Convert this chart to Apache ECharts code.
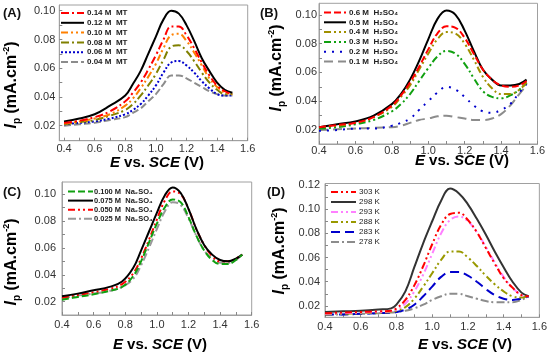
<!DOCTYPE html>
<html><head><meta charset="utf-8">
<script src="https://cdn.jsdelivr.net/npm/echarts@6/dist/echarts.min.js"></script>
<style>html,body{margin:0;padding:0;background:#fff}#c{width:550px;height:359px}</style>
</head><body><div id="c"></div>
<script>
// ---------- DATA ----------
// Panel A : MT concentration
const xA = [0.4,0.5,0.6,0.7,0.8,0.85,0.9,0.95,1.0,1.05,1.1,1.15,1.2,1.25,1.3,1.35,1.4,1.45,1.5];
const namesA = ['0.14 M  MT','0.12 M  MT','0.10 M  MT','0.08 M  MT','0.06 M  MT','0.04 M  MT'];
const a014 = [.022,.0235,.026,.030,.037,.043,.050,.059,.069,.080,.089,.089,.083,.074,.064,.055,.048,.044,.042];
const a012 = [.023,.025,.028,.034,.041,.049,.058,.070,.082,.094,.100,.098,.090,.079,.067,.058,.050,.045,.043];
const a010 = [.0215,.023,.025,.028,.034,.039,.046,.054,.063,.074,.083,.084,.079,.071,.062,.053,.047,.043,.042];
const a008 = [.021,.0225,.024,.027,.031,.035,.041,.048,.056,.066,.075,.076,.072,.065,.057,.050,.045,.042,.042];
const a006 = [.021,.022,.023,.025,.028,.031,.035,.041,.048,.057,.064,.065,.062,.057,.051,.046,.042,.041,.041];
const a004 = [.020,.021,.022,.024,.026,.029,.032,.037,.042,.049,.055,.055,.053,.050,.047,.044,.042,.041,.041];

// Panel B : H2SO4 concentration
const xB = [0.4,0.5,0.6,0.7,0.8,0.85,0.9,0.95,1.0,1.05,1.1,1.15,1.2,1.25,1.3,1.35,1.4,1.45,1.5,1.54];
const namesB = ['0.6 M  H₂SO₄','0.5 M  H₂SO₄','0.4 M  H₂SO₄','0.3 M  H₂SO₄','0.2 M  H₂SO₄','0.1 M  H₂SO₄'];
const b06 = [.022,.0235,.025,.029,.037,.044,.053,.064,.076,.087,.092,.091,.084,.073,.062,.055,.051,.050,.051,.054];
const b05 = [.022,.024,.026,.030,.038,.045,.055,.068,.083,.097,.103,.100,.089,.075,.062,.055,.051,.051,.052,.055];
const b04 = [.022,.023,.025,.029,.036,.043,.051,.062,.073,.083,.088,.087,.080,.069,.057,.049,.045,.045,.048,.053];
const b03 = [.021,.022,.024,.027,.033,.038,.045,.054,.063,.071,.075,.073,.066,.056,.047,.043,.042,.044,.048,.053];
const b02 = [.0195,.020,.021,.021,.023,.025,.028,.034,.040,.046,.050,.048,.043,.037,.033,.032,.034,.038,.046,.052];
const b01 = [.020,.0205,.021,.0215,.022,.023,.025,.027,.028,.0295,.030,.029,.028,.027,.027,.028,.031,.037,.045,.051];

// Panel C : Na2SO4 concentration
const xC = [0.4,0.5,0.6,0.7,0.78,0.85,0.9,0.95,1.0,1.05,1.1,1.15,1.2,1.25,1.3,1.35,1.4,1.45,1.5,1.54];
const namesC = ['0.100 M  Na₂SO₄','0.075 M  Na₂SO₄','0.050 M  Na₂SO₄','0.025 M  Na₂SO₄'];
const c100 = [.0215,.0235,.0255,.028,.031,.039,.050,.064,.078,.090,.096,.094,.083,.069,.058,.051,.048,.048,.051,.055];
const c075 = [.024,.026,.0285,.031,.035,.045,.058,.072,.086,.099,.105,.101,.089,.074,.062,.055,.051,.050,.052,.055];
const c050 = [.023,.025,.027,.0295,.033,.041,.052,.066,.081,.095,.102,.100,.089,.074,.062,.054,.050,.050,.052,.055];
const c025 = [.0225,.0245,.026,.028,.031,.037,.047,.060,.074,.087,.094,.092,.082,.069,.058,.052,.049,.049,.051,.055];

// Panel D : temperature
const xD = [0.4,0.5,0.6,0.7,0.77,0.8,0.85,0.9,0.95,1.0,1.05,1.1,1.15,1.2,1.25,1.3,1.35,1.4,1.45,1.5,1.54];
const namesD = ['303 K','298 K','293 K','288 K','283 K','278 K'];
const d303 = [.014,.0145,.015,.0155,.016,.018,.025,.037,.053,.071,.087,.096,.097,.091,.081,.068,.055,.043,.035,.029,.028];
const d298 = [.015,.0155,.016,.017,.018,.021,.032,.052,.072,.090,.107,.117,.113,.104,.092,.079,.065,.052,.040,.031,.028];
const d293 = [.0135,.014,.0145,.015,.0155,.017,.022,.032,.046,.063,.080,.091,.094,.090,.081,.069,.056,.044,.035,.029,.028];
const d288 = [.013,.0135,.014,.0145,.015,.016,.019,.026,.036,.047,.058,.065,.065,.060,.053,.045,.038,.032,.028,.027,.028];
const d283 = [.013,.013,.0135,.014,.0145,.015,.017,.021,.028,.036,.044,.048,.048,.045,.040,.034,.029,.026,.025,.026,.028];
const d278 = [.013,.013,.0135,.014,.0145,.015,.016,.018,.021,.025,.028,.030,.030,.028,.026,.024,.023,.023,.023,.025,.028];

const xTickLabels = [0.4,0.6,0.8,1.0,1.2,1.4,1.6];
const xTicks = [0.4,0.5,0.6,0.7,0.8,0.9,1.0,1.1,1.2,1.3,1.4,1.5,1.6];
const yTickLabelsABC = [0.02,0.04,0.06,0.08,0.10];
const yTicksABC = [0.02,0.03,0.04,0.05,0.06,0.07,0.08,0.09,0.10];
const yTickLabelsD = [0.02,0.04,0.06,0.08,0.10,0.12];
const yTicksD = [0.02,0.03,0.04,0.05,0.06,0.07,0.08,0.09,0.10,0.11,0.12];

// ---------- STYLES ----------
const FONT = 'Liberation Sans, Arial, sans-serif';
const DASH = [7,3];
const DASHDOT = [8,3,2,3];
const DASHDOTDOT = [7,3,2,3,2,3];
const DOT = [2,2];
const LONGDASH = [9,5];

const panels = [
  {grid:{left:59.3,top:5,width:188.4,height:135.7}, x:[0.369,1.6], y:[0.0096,0.104], yl:yTickLabelsABC, yt:yTicksABC, xm:3, ym:4,
   xs:xA, names:namesA, data:[a014,a012,a010,a008,a006,a004],
   colors:['#ff0000','#000000','#ff8000','#808000','#0000cc','#8c8c8c'],
   types:[DASHDOT,'solid',DASHDOTDOT,DASHDOT,DOT,DASH],
   legend:{left:60,top:8.5,itemWidth:23,itemHeight:9,itemGap:0.8,fontSize:8,fontWeight:'bold',pad:-2}},
  {grid:{left:319,top:3.3,width:218.5,height:140.7}, x:[0.4,1.6], y:[0.0103,0.108], yl:yTickLabelsABC, yt:yTicksABC, xm:1, ym:2,
   xs:xB, names:namesB, data:[b06,b05,b04,b03,b02,b01],
   colors:['#ff0000','#000000','#a09000','#10a010','#0000cc','#8c8c8c'],
   types:[DASH,'solid',DASHDOTDOT,DASHDOTDOT,[2,6],LONGDASH],
   legend:{left:323,top:8,itemWidth:22,itemHeight:9,itemGap:0.8,fontSize:8,fontWeight:'bold',pad:-2}},
  {grid:{left:62,top:182,width:189.7,height:133}, x:[0.4,1.6], y:[0.0101,0.109], yl:yTickLabelsABC, yt:yTicksABC, xm:4, ym:6,
   xs:xC, names:namesC, data:[c100,c075,c050,c025],
   colors:['#10a010','#000000','#ff0000','#999999'],
   types:[DASH,'solid',DASHDOTDOT,DASHDOT],
   legend:{left:67,top:187.5,itemWidth:25,itemHeight:8,itemGap:1.1,fontSize:7.5,fontWeight:'bold',pad:-4}},
  {grid:{left:325,top:183.5,width:214.5,height:133.8}, x:[0.4,1.6], y:[0.0106,0.1212], yl:yTickLabelsD, yt:yTicksD, xm:4, ym:5,
   xs:xD, names:namesD, data:[d303,d298,d293,d288,d283,d278],
   colors:['#ff0000','#333333','#ff80ff','#999900','#0000cc','#8c8c8c'],
   types:[DASHDOTDOT,'solid',DASHDOTDOT,DASHDOTDOT,LONGDASH,DASHDOT],
   legend:{left:330,top:187.5,itemWidth:25,itemHeight:9,itemGap:1,fontSize:8,fontWeight:'normal',pad:-2}}
];

const grid=[], xAxis=[], yAxis=[], series=[], legend=[];
panels.forEach((p,i)=>{
  grid.push(Object.assign({show:true,borderColor:'#a0a0a0',borderWidth:1,containLabel:false}, p.grid));
  xAxis.push({type:'value',gridIndex:i,min:p.x[0],max:p.x[1],
    axisLine:{show:true,lineStyle:{color:'#a0a0a0',width:1}},
    axisTick:{show:true,inside:true,length:3,lineStyle:{color:'#888'},customValues:xTicks},
    axisLabel:{customValues:xTickLabels,margin:p.xm,fontSize:11,fontFamily:FONT,color:'#333',formatter:v=>v.toFixed(1)},
    splitLine:{show:false}});
  yAxis.push({type:'value',gridIndex:i,min:p.y[0],max:p.y[1],
    axisLine:{show:true,lineStyle:{color:'#a0a0a0',width:1}},
    axisTick:{show:true,inside:true,length:3,lineStyle:{color:'#888'},customValues:p.yt},
    axisLabel:{customValues:p.yl,margin:p.ym,fontSize:11,fontFamily:FONT,color:'#333',formatter:v=>v.toFixed(2)},
    splitLine:{show:false}});
  p.names.forEach((n,k)=>{
    series.push({type:'line',name:n,xAxisIndex:i,yAxisIndex:i,smooth:0.4,symbol:'none',showSymbol:false,
      data:p.xs.map((x,j)=>[x,p.data[k][j]]),
      lineStyle:{color:p.colors[k],width:2,type:p.types[k]},itemStyle:{color:p.colors[k]},z:10-k});
  });
  const L=p.legend;
  legend.push({data:p.names,orient:'vertical',left:L.left,top:L.top,itemWidth:L.itemWidth,itemHeight:L.itemHeight,itemGap:L.itemGap,
    padding:0,selectedMode:false,itemStyle:{opacity:0,borderWidth:0},
    textStyle:{fontSize:L.fontSize,fontWeight:L.fontWeight,fontFamily:FONT,color:'#222',lineHeight:L.itemHeight,padding:[0,0,0,L.pad]}});
});

const yRich = {i:{fontStyle:'italic',fontWeight:'bold',fontSize:16,fontFamily:FONT,color:'#111',verticalAlign:'middle'},
  s:{fontWeight:'bold',fontSize:10,fontFamily:FONT,color:'#111',verticalAlign:'bottom',lineHeight:20},
  t:{fontWeight:'bold',fontSize:16,fontFamily:FONT,color:'#111',verticalAlign:'middle'},
  u:{fontWeight:'bold',fontSize:9,fontFamily:FONT,color:'#111',verticalAlign:'top',lineHeight:20}};
const xRich = {i:{fontStyle:'italic',fontWeight:'bold',fontSize:15,fontFamily:FONT,color:'#111'},
  t:{fontWeight:'bold',fontSize:15,fontFamily:FONT,color:'#111'}};
const yText = '{i|I}{s|p}{t| (mA.cm}{u|-2}{t|)}';
const xText = '{i|E}{t| vs. }{i|SCE}{t| (V)}';
function ytitle(x,y){return {type:'text',x:x,y:y,rotation:Math.PI/2,style:{text:yText,rich:yRich,align:'center',verticalAlign:'middle'}};}
function xtitle(x,y){return {type:'text',x:x,y:y,style:{text:xText,rich:xRich,align:'center',verticalAlign:'middle'}};}
function plabel(x,y,t){return {type:'text',x:x,y:y,style:{text:t,fontSize:13,fontWeight:'bold',fontFamily:FONT,fill:'#111',align:'left',verticalAlign:'middle'}};}

const graphic = [
  ytitle(12,85), ytitle(277,68), ytitle(12,262), ytitle(280,251),
  xtitle(157,163), xtitle(462,161), xtitle(160,345), xtitle(465,345),
  plabel(3,13,'(A)'), plabel(260,13,'(B)'), plabel(3,192,'(C)'), plabel(267,192,'(D)')
];

const chart = echarts.init(document.getElementById('c'),null,{renderer:'canvas'});
chart.setOption({animation:false,backgroundColor:'#fff',grid,xAxis,yAxis,series,legend,graphic});
</script></body></html>
